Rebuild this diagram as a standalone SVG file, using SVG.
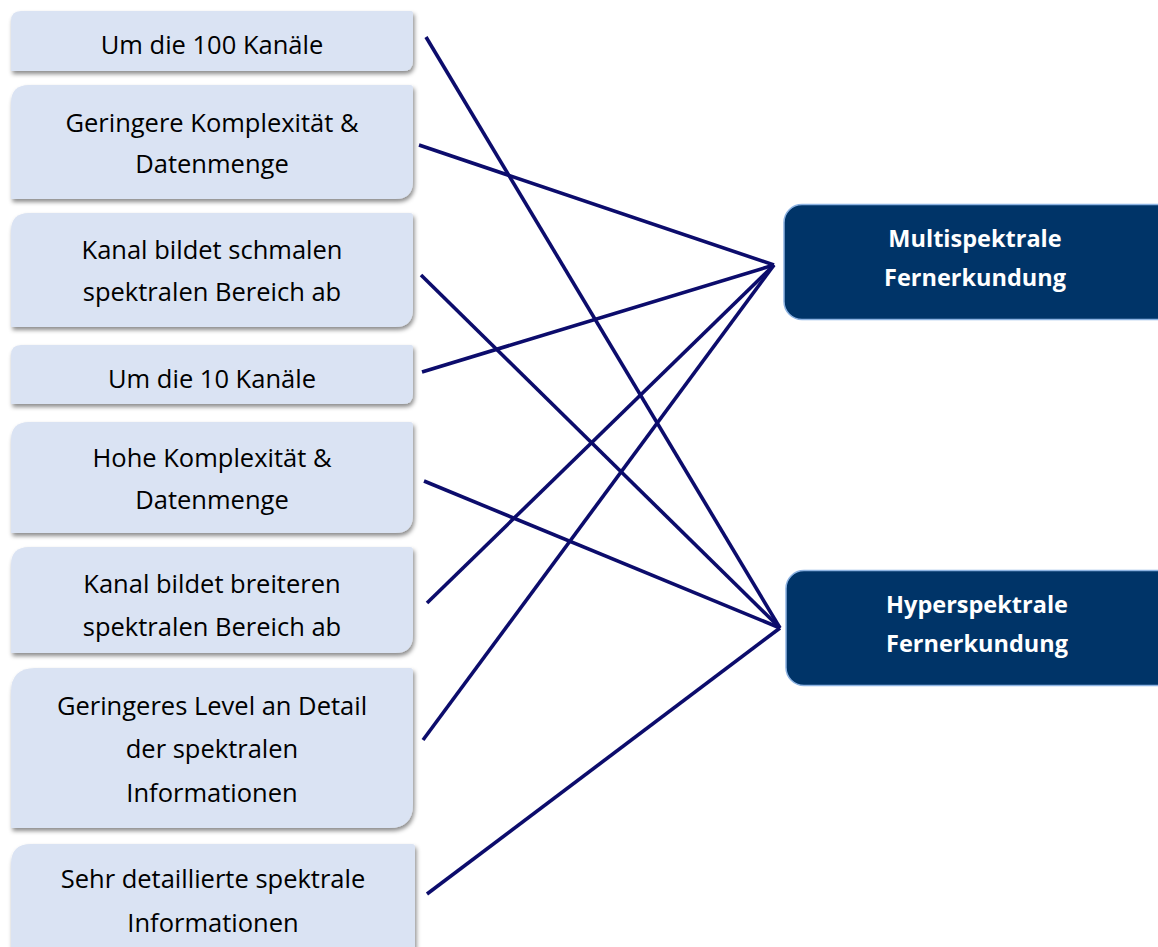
<svg xmlns="http://www.w3.org/2000/svg" width="1158" height="947" viewBox="0 0 1158 947">
<style>
.lb{fill:#dae3f3;filter:url(#sh)}
.lt{font-family:"Open Sans","Noto Sans",sans-serif;font-size:25.5px;fill:#000;text-anchor:middle}
.rb{fill:#003468;stroke:#8db3e2;stroke-width:1.5}
.rt{font-family:"Open Sans","Noto Sans",sans-serif;font-size:23.5px;font-weight:bold;fill:#fff;text-anchor:middle}
.cn line{stroke:#0c0c6c;stroke-width:3.6;stroke-linecap:butt}
</style>
<defs>
<filter id="sh" x="-5%" y="-10%" width="115%" height="130%">
<feDropShadow dx="1.5" dy="3" stdDeviation="2" flood-color="#000" flood-opacity="0.45"/>
</filter>
</defs>
<rect width="1158" height="947" fill="#fff"/>
<g id="n1"><path class="lb" d="M21,11 H411 Q413,11 413,13 V61 Q413,71 403,71 H11 V21 Q11,11 21,11 Z"/><text class="lt" x="212" y="54">Um die 100 Kanäle</text></g>
<g id="n2"><path class="lb" d="M29,85 H410 Q413,85 413,88 V181 Q413,199 395,199 H11 V103 Q11,85 29,85 Z"/><text class="lt" x="212" y="132">Geringere Komplexität &amp;</text><text class="lt" x="212" y="173">Datenmenge</text></g>
<g id="n3"><path class="lb" d="M29,213 H410 Q413,213 413,216 V309 Q413,327 395,327 H11 V231 Q11,213 29,213 Z"/><text class="lt" x="212" y="259">Kanal bildet schmalen</text><text class="lt" x="212" y="301">spektralen Bereich ab</text></g>
<g id="n4"><path class="lb" d="M21,345 H411 Q413,345 413,347 V394 Q413,404 403,404 H11 V355 Q11,345 21,345 Z"/><text class="lt" x="212" y="388">Um die 10 Kanäle</text></g>
<g id="n5"><path class="lb" d="M29,422 H410 Q413,422 413,425 V515 Q413,533 395,533 H11 V440 Q11,422 29,422 Z"/><text class="lt" x="212" y="467">Hohe Komplexität &amp;</text><text class="lt" x="212" y="509">Datenmenge</text></g>
<g id="n6"><path class="lb" d="M29,547 H410 Q413,547 413,550 V635 Q413,653 395,653 H11 V565 Q11,547 29,547 Z"/><text class="lt" x="212" y="593">Kanal bildet breiteren</text><text class="lt" x="212" y="636">spektralen Bereich ab</text></g>
<g id="n7"><path class="lb" d="M35,668 H410 Q413,668 413,671 V804 Q413,828 389,828 H11 V692 Q11,668 35,668 Z"/><text class="lt" x="212" y="715">Geringeres Level an Detail</text><text class="lt" x="212" y="758">der spektralen</text><text class="lt" x="212" y="802">Informationen</text></g>
<g id="n8"><path class="lb" d="M31,844 H412 Q415,844 415,847 V960 H11 V864 Q11,844 31,844 Z"/><text class="lt" x="213" y="888">Sehr detaillierte spektrale</text><text class="lt" x="213" y="932">Informationen</text></g>
<g id="multi"><rect class="rb" x="784" y="204.5" width="400" height="115" rx="18"/><text class="rt" x="975" y="247">Multispektrale</text><text class="rt" x="975" y="286">Fernerkundung</text></g>
<g id="hyper"><rect class="rb" x="786" y="570.5" width="400" height="115" rx="18"/><text class="rt" x="977" y="613">Hyperspektrale</text><text class="rt" x="977" y="652">Fernerkundung</text></g>
<g id="connectors" class="cn">
<line x1="426" y1="37" x2="780" y2="628"/>
<line x1="419" y1="145" x2="774" y2="265"/>
<line x1="421" y1="275" x2="780" y2="628"/>
<line x1="422" y1="372" x2="774" y2="265"/>
<line x1="424" y1="481" x2="780" y2="628"/>
<line x1="427" y1="603" x2="774" y2="265"/>
<line x1="423" y1="740" x2="774" y2="265"/>
<line x1="427" y1="894" x2="780" y2="628"/>
</g>
</svg>
